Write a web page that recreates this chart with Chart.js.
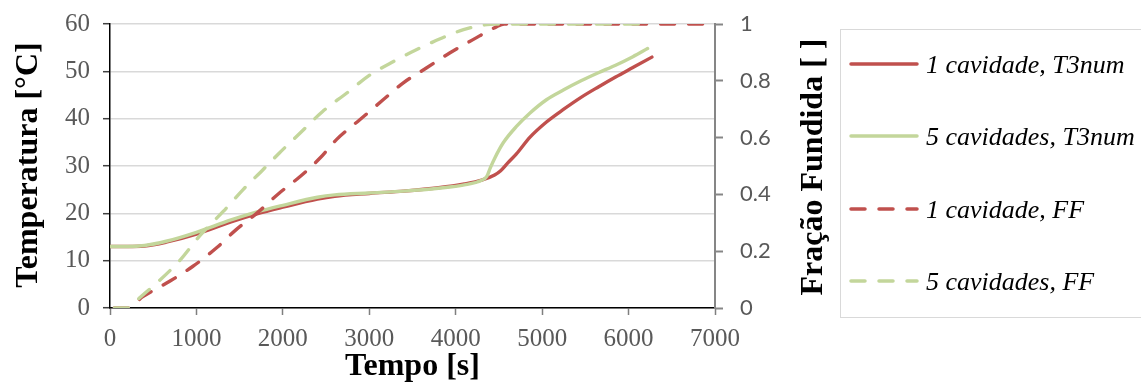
<!DOCTYPE html>
<html>
<head>
<meta charset="utf-8">
<script src="https://cdn.jsdelivr.net/npm/chart.js@4.4.1/dist/chart.umd.min.js"></script>
<style>
  html, body { margin: 0; padding: 0; background: #fff; overflow: hidden; }
  #wrap { position: relative; width: 1141px; height: 383px; }
</style>
</head>
<body>
<div id="wrap"><canvas id="c" width="1141" height="383"></canvas></div>
<script>
// Tempo [s] / Temperatura [°C] — 1 cavidade, T3num
const tempoT1 = [0, 200, 400, 650, 1000, 1400, 1700, 2000, 2400, 2600, 3000, 3400, 3800, 4100, 4300, 4450, 4520, 4600, 4700, 4860, 5050, 5250, 5450, 5650, 5850, 6050, 6270];
const tempT1  = [13.0, 13.0, 13.1, 13.9, 15.6, 18.2, 19.9, 21.3, 23.0, 23.6, 24.2, 24.7, 25.4, 26.2, 27.0, 28.1, 29.0, 30.6, 32.5, 36.1, 39.3, 42.0, 44.5, 46.7, 48.8, 50.8, 53.0];

// 5 cavidades, T3num
const tempoT5 = [0, 200, 400, 650, 1000, 1400, 1700, 2000, 2400, 2600, 3000, 3400, 3800, 4100, 4300, 4360, 4400, 4450, 4550, 4700, 4860, 5050, 5250, 5450, 5650, 5850, 6050, 6220];
const tempT5  = [13.0, 13.0, 13.2, 14.1, 16.0, 18.6, 20.3, 21.7, 23.4, 23.9, 24.3, 24.7, 25.3, 26.0, 27.0, 27.8, 29.6, 31.6, 34.9, 38.3, 41.2, 44.0, 46.1, 48.0, 49.7, 51.3, 53.1, 54.8];

// Fração fundida [ ] — 1 cavidade, FF
const tempoF1 = [50, 200, 380, 690, 960, 1230, 1460, 1700, 1960, 2200, 2430, 2620, 2890, 3160, 3390, 3660, 3930, 4200, 4470, 4560, 7000];
const fracF1  = [0, 0, 0.04, 0.094, 0.147, 0.211, 0.276, 0.334, 0.405, 0.463, 0.528, 0.593, 0.663, 0.733, 0.792, 0.845, 0.898, 0.945, 0.99, 1, 1];

// 5 cavidades, FF
const tempoF5 = [50, 200, 340, 800, 1040, 1310, 1540, 1770, 1960, 2200, 2460, 2740, 3010, 3280, 3550, 3820, 4090, 4360, 4450, 6220];
const fracF5  = [0, 0, 0.035, 0.165, 0.255, 0.34, 0.417, 0.487, 0.546, 0.616, 0.692, 0.757, 0.821, 0.868, 0.91, 0.948, 0.98, 0.998, 1, 1];

const xTicks = [0, 1000, 2000, 3000, 4000, 5000, 6000, 7000];
const nomes = ['1 cavidade, T3num', '5 cavidades, T3num', '1 cavidade, FF', '5 cavidades, FF'];

const VERMELHO = '#C0504D';
const VERDE = '#C3D69B';
const SERIF = '"Liberation Serif", "Times New Roman", serif';

const pts = (xs, ys) => xs.map((x, i) => ({ x, y: ys[i] }));

const serie = (label, xs, ys, color, eixo, tracejado, ordem) => ({
  label,
  data: pts(xs, ys),
  yAxisID: eixo,
  borderColor: color,
  backgroundColor: color,
  borderWidth: 3.4,
  borderDash: tracejado ? [14, 14] : [],
  borderCapStyle: 'round',
  borderJoinStyle: 'round',
  pointRadius: 0,
  pointHoverRadius: 0,
  fill: false,
  cubicInterpolationMode: 'monotone',
  order: ordem
});

// keep the plot area where the layout padding puts it
const semFolga = (s) => { s.paddingTop = 0; s.paddingBottom = 0; s.paddingLeft = 0; s.paddingRight = 0; };

// vertical titles and the framed legend, painted after the chart
const extras = {
  id: 'extras',
  afterDraw(chart) {
    const ctx = chart.ctx;
    ctx.save();
    ctx.fillStyle = '#000';
    ctx.font = 'bold 32px ' + SERIF;
    ctx.textAlign = 'center';
    ctx.textBaseline = 'alphabetic';
    const mid = (chart.chartArea.top + chart.chartArea.bottom) / 2;

    ctx.save();
    ctx.translate(37, mid - 1);
    ctx.rotate(-Math.PI / 2);
    ctx.fillText('Temperatura [°C]', 0, 0);
    ctx.restore();

    ctx.save();
    ctx.translate(822, mid + 1);
    ctx.rotate(-Math.PI / 2);
    ctx.fillText('Fração Fundida [ ]', 0, 0);
    ctx.restore();

    // legend frame
    ctx.strokeStyle = '#d9d9d9';
    ctx.lineWidth = 1;
    ctx.strokeRect(840.5, 29.5, 320, 288);

    const linhas = [64, 136, 209, 281];
    chart.data.datasets.forEach((ds, i) => {
      const y = linhas[i];
      ctx.save();
      ctx.strokeStyle = ds.borderColor;
      ctx.lineWidth = 3.5;
      ctx.lineCap = 'round';
      ctx.setLineDash(ds.borderDash);
      ctx.beginPath();
      ctx.moveTo(851, y);
      ctx.lineTo(917, y);
      ctx.stroke();
      ctx.restore();
      ctx.fillStyle = '#000';
      ctx.font = 'italic 26px ' + SERIF;
      ctx.textAlign = 'left';
      ctx.fillText(ds.label, 926, y + 8.5);
    });
    ctx.restore();
  }
};

new Chart(document.getElementById('c'), {
  type: 'line',
  data: {
    datasets: [
      serie(nomes[0], tempoT1, tempT1, VERMELHO, 'yT', false, 4),
      serie(nomes[1], tempoT5, tempT5, VERDE, 'yT', false, 3),
      serie(nomes[2], tempoF1, fracF1, VERMELHO, 'yF', true, 2),
      serie(nomes[3], tempoF5, fracF5, VERDE, 'yF', true, 1)
    ]
  },
  options: {
    responsive: false,
    animation: false,
    events: [],
    layout: { padding: { top: 24, left: 0, right: 311, bottom: 0 } },
    plugins: { legend: { display: false }, tooltip: { enabled: false } },
    scales: {
      x: {
        type: 'linear',
        min: 0,
        max: 7000,
        afterBuildTicks: (s) => { s.ticks = xTicks.map(v => ({ value: v })); },
        afterFit: (s) => { s.height = 75; semFolga(s); },
        ticks: {
          font: { family: SERIF, size: 25, lineHeight: 1.2 },
          color: '#595959',
          padding: 9,
          maxRotation: 0,
          callback: (v) => String(v)
        },
        grid: { drawOnChartArea: false, drawTicks: true, tickLength: 7, tickColor: '#7f7f7f', tickWidth: 1.5 },
        border: { color: '#000', width: 1.5 },
        title: {
          display: true,
          text: 'Tempo [s]',
          color: '#000',
          font: { family: SERIF, size: 32, weight: 'bold', lineHeight: 1 },
          padding: { top: 0, bottom: 0 }
        }
      },
      yT: {
        type: 'linear',
        position: 'left',
        min: 0,
        max: 60,
        afterFit: (s) => { s.width = 110; semFolga(s); },
        ticks: { stepSize: 10, font: { family: SERIF, size: 25 }, color: '#595959', padding: 13, callback: (v) => String(v) },
        grid: { color: '#d9d9d9', lineWidth: 1.4, tickLength: 7, tickColor: '#404040', tickWidth: 1.5 },
        border: { color: '#000', width: 1.5 }
      },
      yF: {
        type: 'linear',
        position: 'right',
        min: 0,
        max: 1,
        afterFit: (s) => { s.width = 115; semFolga(s); },
        ticks: {
          stepSize: 0.2,
          font: { family: 'Lato, "Open Sans", sans-serif', size: 22 },
          color: '#595959',
          padding: 17,
          callback: (v) => String(Math.round(v * 10) / 10)
        },
        grid: { drawOnChartArea: false, tickLength: 8, tickColor: '#868686', tickWidth: 2 },
        border: { color: '#868686', width: 2 }
      }
    }
  },
  plugins: [extras]
});
</script>
</body>
</html>
